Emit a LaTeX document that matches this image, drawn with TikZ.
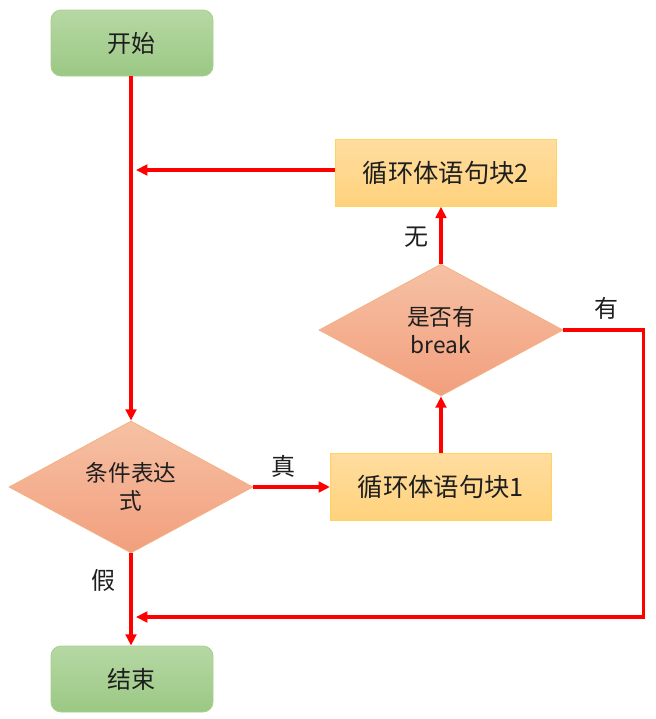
\documentclass[tikz,border=0pt]{standalone}
\usepackage{fontspec}
\setmainfont{Noto Sans CJK SC}
\usetikzlibrary{shapes.geometric,arrows.meta}

\definecolor{termtop}{HTML}{B6D8A4}
\definecolor{termbot}{HTML}{9BC884}
\definecolor{termedge}{HTML}{A8D08D}
\definecolor{blocktop}{HTML}{FFDDA0}
\definecolor{blockbot}{HTML}{FFD27C}
\definecolor{blockedge}{HTML}{FFD35E}
\definecolor{diatop}{HTML}{F6C1A4}
\definecolor{diabot}{HTML}{F29F7D}
\definecolor{diaedge}{HTML}{F4B183}
\definecolor{txt}{HTML}{1E1E1E}

\tikzset{
  termbox/.style={rounded corners=7.5pt, draw=termedge, line width=0.6pt,
    top color=termtop, bottom color=termbot, text=txt,
    minimum width=121.5pt, minimum height=49.5pt, inner sep=0pt,
    font=\fontsize{18}{21}\selectfont},
  blockbox/.style={draw=blockedge, line width=0.6pt,
    top color=blocktop, bottom color=blockbot, text=txt,
    minimum width=166pt, minimum height=50pt, inner sep=0pt,
    font=\fontsize{19}{22}\selectfont},
  decision/.style={diamond, aspect=1.85, draw=diaedge, line width=0.6pt,
    top color=diatop, bottom color=diabot, text=txt, align=center,
    minimum width=183pt, minimum height=99pt, inner sep=0pt,
    font=\fontsize{17}{21}\selectfont},
  flowline/.style={draw=red, line width=2.6pt,
    -{Triangle[length=8.5pt,width=8pt]}},
  lbl/.style={text=txt, font=\fontsize{18}{21}\selectfont}
}

\begin{document}
\begin{tikzpicture}[x=0.75pt, y=-0.75pt, line join=miter]
  \useasboundingbox (0,0) rectangle (656,719);
  % nodes
  \node[termbox] (start) at (132,43) {开始};
  \node[blockbox] (blk2) at (446,173) {循环体语句块2};
  \node[decision] (brk) at (441,330) {是否有\\break};
  \node[decision] (cond) at (131,487) {条件表达\\式};
  \node[blockbox] (blk1) at (441,487) {循环体语句块1};
  \node[termbox] (end) at (132,679) {结束};
  \coordinate (j2) at (136,170);
  \coordinate (j1) at (136,617);
  % connectors
  \draw[flowline] (cond.north |- start.south) -- (cond.north);
  \draw[flowline] (blk2.west |- j2) -- (j2);
  \draw[flowline] (cond.east) -- (blk1.west);
  \draw[flowline] (blk1.north) -- (brk.south);
  \draw[flowline] (brk.north) -- (brk.north |- blk2.south);
  \draw[flowline] (brk.east) -- ++(80,0) |- (j1);
  \draw[flowline] (cond.south) -- (cond.south |- end.north);
  % labels
  \node[lbl] at (283,466) {真};
  \node[lbl] at (416,237) {无};
  \node[lbl] at (606,308) {有};
  \node[lbl] at (103,580) {假};
\end{tikzpicture}
\end{document}
